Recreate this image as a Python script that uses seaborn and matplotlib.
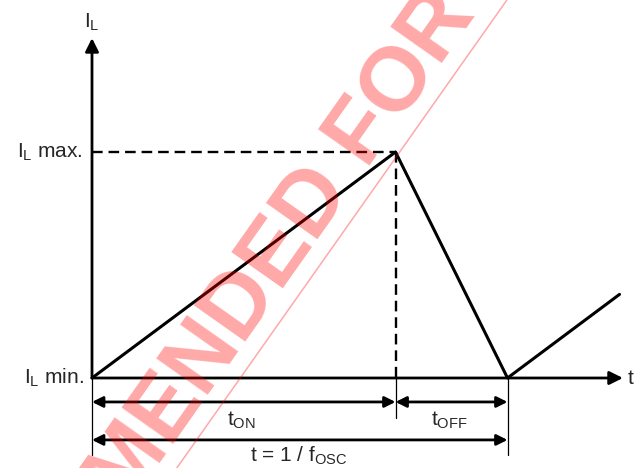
import numpy as np
import pandas as pd
import seaborn as sns
import matplotlib.pyplot as plt
from matplotlib.lines import Line2D

sns.set_theme(style='white')
plt.rcParams['font.family'] = ['Liberation Sans', 'DejaVu Sans']
plt.rcParams['mathtext.default'] = 'regular'

# inductor current waveform (time in arbitrary units, current normalised)
t_points = [0.0, 2.71, 3.71, 4.71]
i_points = [0.0, 1.0, 0.0, 0.37]
t_on = 2.71
t_off = 1.0
i_min = 0.0
i_max = 1.0

level_labels = ['I$_L$ max.', 'I$_L$ min.']
y_axis_label = 'I$_L$'
x_axis_label = 't'
period_labels = ['t$_{ON}$', 't$_{OFF}$', 't = 1 / f$_{OSC}$']
watermark = 'NOT RECOMMENDED FOR NEW DESIGN'

df = pd.DataFrame({'t': t_points, 'i': i_points})

fig = plt.figure(figsize=(6.36, 4.68), dpi=100)
ax = fig.add_axes([0, 0, 1, 1])
ax.set_xlim(-92 / 112, 544 / 112)
ax.set_ylim(-90 / 226, 378 / 226)
ax.axis('off')

period = t_on + t_off
x_end = 4.74
y_end = 1.504

# axes with arrow heads
arr = dict(arrowstyle='-|>', lw=2.0, color='black', mutation_scale=20,
           shrinkA=0, shrinkB=0)
ax.annotate('', xy=(x_end, i_min), xytext=(0, i_min), arrowprops=arr)
ax.annotate('', xy=(0, y_end), xytext=(0, i_min), arrowprops=arr)

# waveform
sns.lineplot(data=df, x='t', y='i', sort=False, color='black', lw=2.2,
             ax=ax, zorder=3)

# dashed guides to the peak
ax.plot([0, t_on], [i_max, i_max], color='black', lw=1.7, dashes=(4.5, 2.5))
ax.plot([t_on, t_on], [i_max, i_min], color='black', lw=1.7, dashes=(4.5, 2.5))

# extension lines below the time axis
ax.plot([0, 0], [i_min, -0.341], color='black', lw=0.9)
ax.plot([period, period], [i_min, -0.341], color='black', lw=0.9)
ax.plot([t_on, t_on], [i_min, -0.177], color='black', lw=0.9)

# dimension arrows
dim = dict(arrowstyle='<|-|>', lw=2.0, color='black', mutation_scale=16,
           shrinkA=0, shrinkB=0)
ax.annotate('', xy=(t_on, -0.106), xytext=(0, -0.106), arrowprops=dim)
ax.annotate('', xy=(period, -0.106), xytext=(t_on, -0.106), arrowprops=dim)
ax.annotate('', xy=(period, -0.274), xytext=(0, -0.274), arrowprops=dim)

fs = 15
ax.text(-0.08, i_max, level_labels[0], ha='right', va='center', fontsize=fs)
ax.text(-0.07, i_min, level_labels[1], ha='right', va='center', fontsize=fs)
ax.text(0.0, 1.575, y_axis_label, ha='center', va='center', fontsize=fs)
ax.text(4.78, i_min, x_axis_label, ha='left', va='center', fontsize=fs)
ax.text(t_on / 2 - 0.02, -0.186, period_labels[0], ha='center', va='center', fontsize=fs)
ax.text(t_on + t_off / 2 - 0.02, -0.186, period_labels[1], ha='center', va='center', fontsize=fs)
ax.text(1.85, -0.345, period_labels[2], ha='center', va='center', fontsize=fs)

# diagonal watermark
fig.text(0.500, 0.488, watermark, rotation=54.8, rotation_mode='anchor',
         ha='center', va='baseline', fontsize=65, fontweight='bold',
         color='red', alpha=0.34, zorder=10)
fig.add_artist(Line2D([0.278, 0.797], [0.0, 1.0], transform=fig.transFigure,
                      color='red', alpha=0.34, lw=1.1, zorder=10))

fig.savefig('out.png', dpi=100, facecolor='white')
